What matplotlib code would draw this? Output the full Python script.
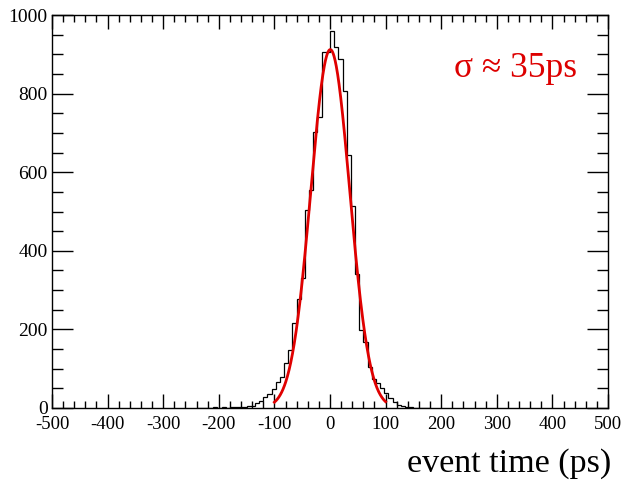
import numpy as np
import matplotlib
matplotlib.use("Agg")
import matplotlib.pyplot as plt
from matplotlib.ticker import MultipleLocator

plt.rcParams['font.family'] = ['Liberation Serif', 'DejaVu Serif']
plt.rcParams['axes.unicode_minus'] = False

# Histogram: bin width 7.5 ps, first bin edge at -240 ps
bin_width = 7.5
first_edge = -240.0
counts = [0, 1, 0, 1, 2, 1, 2, 1, 2, 2, 2, 3, 4, 5, 12, 19, 27, 36, 48, 67,
          80, 114, 148, 217, 277, 330, 504, 555, 703, 741, 905, 905,
          960, 918, 888, 806, 644, 515, 340, 198, 169, 105, 75, 63, 50, 37,
          25, 16, 8, 5, 3, 2, 1, 1, 0, 1]

# Gaussian fit parameters
fit_amp = 912.0
fit_mean = 0.5
fit_sigma = 35.0
fit_range = (-100.0, 100.0)

label_text = "\u03c3 \u2248 35ps"
xlabel = "event time (ps)"

edges = first_edge + bin_width * np.arange(len(counts) + 1)

fig = plt.figure(figsize=(6.25, 4.84), dpi=100)
ax = fig.add_axes([52/625, 1 - 408/484, (608-52)/625, (408-15)/484])

ax.stairs(counts, edges, color='black', linewidth=0.9, baseline=0)
xf = np.linspace(fit_range[0], fit_range[1], 400)
yf = fit_amp * np.exp(-0.5 * ((xf - fit_mean) / fit_sigma) ** 2)
ax.plot(xf, yf, color='#e00000', linewidth=2.0)

ax.set_xlim(-500, 500)
ax.set_ylim(0, 1000)
ax.xaxis.set_major_locator(MultipleLocator(100))
ax.xaxis.set_minor_locator(MultipleLocator(20))
ax.yaxis.set_major_locator(MultipleLocator(200))
ax.yaxis.set_minor_locator(MultipleLocator(50))

ax.tick_params(axis='x', which='major', direction='in', length=10, width=1.0,
               top=True, labelsize=13.5, pad=6)
ax.tick_params(axis='x', which='minor', direction='in', length=5, width=1.0, top=True)
ax.tick_params(axis='y', which='major', direction='in', length=15, width=1.0,
               right=True, labelsize=14, pad=3)
ax.tick_params(axis='y', which='minor', direction='in', length=8, width=1.0, right=True)
for s in ax.spines.values():
    s.set_linewidth(1.0)

fig.text(577/625, 1 - 77/484, label_text, ha='right', va='baseline',
         fontsize=25.5, color='#dd0000')
fig.text(611/625, 1 - 472/484, xlabel, ha='right', va='baseline', fontsize=24.5)

fig.savefig("out.png", dpi=100)
